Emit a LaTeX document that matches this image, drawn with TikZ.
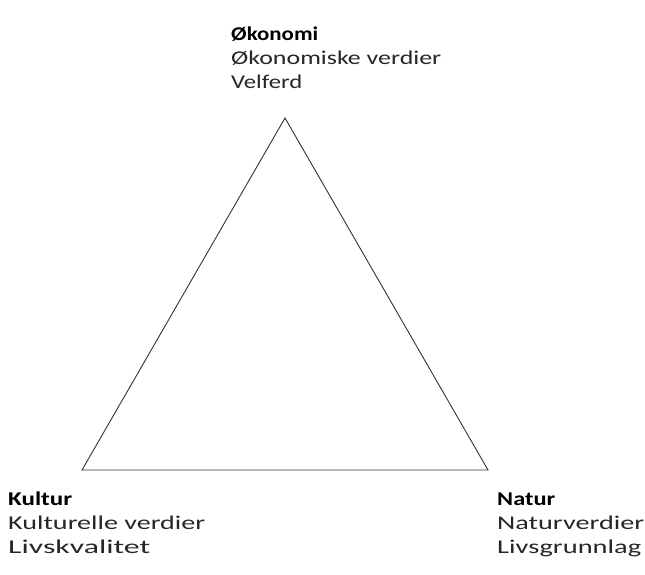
\documentclass[tikz,border=0pt]{standalone}
\usepackage{fontspec}
\usepackage{graphicx}
\setmainfont{Carlito}
% each label is stretched horizontally to its set width, keeping its height
\newcommand{\fitto}[2]{\resizebox{#1pt}{\height}{#2}}
\begin{document}
\begin{tikzpicture}[x=1pt,y=-1pt,
  lbl/.style={anchor=base west,inner sep=0pt,font=\fontsize{19.5}{22}\selectfont,text=black!85},
  head/.style={lbl,font=\fontsize{19.5}{22}\selectfont\bfseries,text=black},
  edge/.style={draw=black!80,line width=0.9pt}]
\useasboundingbox (0,0) rectangle (645,575);
% corners of the triangle
\coordinate (top) at (285,118);
\coordinate (left) at (82,470);
\coordinate (right) at (488,470);
\draw[edge,line join=miter] (top) -- (right) -- (left) -- cycle;
% economy
\node[head] (oh) at (231,41) {\fitto{87}{Økonomi}};
\node[lbl] (o1) at (231,65) {\fitto{210}{Økonomiske verdier}};
\node[lbl] (o2) at (231,89) {\fitto{71}{Velferd}};
% culture
\node[head] (kh) at (8,505) {\fitto{64}{Kultur}};
\node[lbl] (k1) at (8,529) {\fitto{197}{Kulturelle verdier}};
\node[lbl] (k2) at (8,553) {\fitto{142}{Livskvalitet}};
% nature
\node[head] (nh) at (497,505) {\fitto{58}{Natur}};
\node[lbl] (n1) at (497,529) {\fitto{147}{Naturverdier}};
\node[lbl] (n2) at (497,553) {\fitto{144}{Livsgrunnlag}};
\end{tikzpicture}
\end{document}
